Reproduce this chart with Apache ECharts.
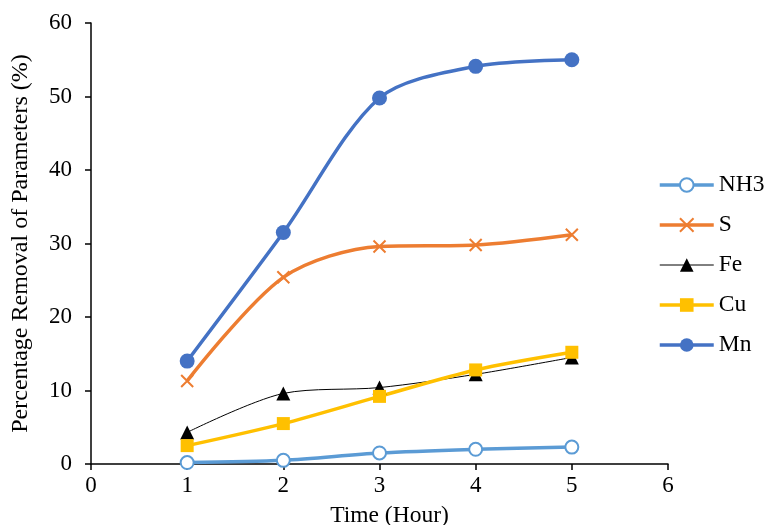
<!DOCTYPE html>
<html>
<head>
<meta charset="utf-8">
<script src="https://cdn.jsdelivr.net/npm/echarts@6/dist/echarts.min.js"></script>
<style>
  html, body { margin: 0; padding: 0; background: #fff; }
  #chart { width: 765px; height: 525px; }
</style>
</head>
<body>
<div id="chart"></div>
<script>
// Removal over time (hours) for each parameter
const hours = [1, 2, 3, 4, 5];
const nh3 = [0.2, 0.5, 1.5, 2.0, 2.3];
const s   = [11.3, 25.4, 29.6, 29.8, 31.2];
const fe  = [4.3, 9.6, 10.4, 12.2, 14.5];
const cu  = [2.5, 5.5, 9.2, 12.8, 15.2];
const mn  = [14.0, 31.5, 49.8, 54.1, 55.0];

const pairs = (ys) => hours.map((h, i) => [h, ys[i]]);
const font = '"Liberation Serif", "Times New Roman", serif';
const crossPath = 'path://M0,0L10,10M10,0L0,10';
const smooth = 0.3;

const chart = echarts.init(document.getElementById('chart'));
chart.setOption({
  animation: false,
  backgroundColor: '#fff',
  grid: { left: 91, right: 97, top: 23, bottom: 61, outerBoundsMode: 'none', containLabel: false },
  xAxis: {
    type: 'value', min: 0, max: 6, interval: 1,
    name: 'Time (Hour)', nameLocation: 'middle', nameGap: 40,
    nameTextStyle: { fontFamily: font, fontSize: 23.5, color: '#000', padding: [0, 0, 0, 20] },
    axisLine: { onZero: false, lineStyle: { color: '#000', width: 1.5 } },
    axisTick: { show: true, length: 6, lineStyle: { color: '#000', width: 1.5 } },
    axisLabel: { fontFamily: font, fontSize: 23, color: '#000', margin: 10 },
    splitLine: { show: false }
  },
  yAxis: {
    type: 'value', min: 0, max: 60, interval: 10,
    name: 'Percentage Removal of Parameters (%)', nameLocation: 'middle', nameGap: 58,
    nameTextStyle: { fontFamily: font, fontSize: 24, color: '#000' },
    axisLine: { show: true, lineStyle: { color: '#000', width: 1.5 } },
    axisTick: { show: true, length: 6, lineStyle: { color: '#000', width: 1.5 } },
    axisLabel: { fontFamily: font, fontSize: 23, color: '#000', margin: 19 },
    splitLine: { show: false }
  },
  legend: {
    orient: 'vertical', left: 653, top: 168,
    itemWidth: 54, itemHeight: 17, itemGap: 16,
    lineStyle: { width: 'inherit' },
    textStyle: { fontFamily: font, fontSize: 23.5, lineHeight: 24, color: '#000' },
    data: ['NH3', 'S', 'Fe', 'Cu', 'Mn']
  },
  series: [
    {
      name: 'NH3', type: 'line', smooth: smooth, data: pairs(nh3),
      symbol: 'circle', symbolSize: 13,
      lineStyle: { color: '#5B9BD5', width: 3.5 },
      itemStyle: { color: '#fff', borderColor: '#5B9BD5', borderWidth: 2 }
    },
    {
      name: 'S', type: 'line', smooth: smooth, data: pairs(s),
      symbol: crossPath, symbolSize: 12,
      lineStyle: { color: '#ED7D31', width: 3.5 },
      itemStyle: { color: '#fff', borderColor: '#ED7D31', borderWidth: 2 }
    },
    {
      name: 'Fe', type: 'line', smooth: smooth, data: pairs(fe),
      symbol: 'triangle', symbolSize: 14,
      lineStyle: { color: '#000', width: 1 },
      itemStyle: { color: '#000' }
    },
    {
      name: 'Cu', type: 'line', smooth: smooth, data: pairs(cu),
      symbol: 'rect', symbolSize: 13,
      lineStyle: { color: '#FFC000', width: 3.5 },
      itemStyle: { color: '#FFC000' }
    },
    {
      name: 'Mn', type: 'line', smooth: smooth, data: pairs(mn),
      symbol: 'circle', symbolSize: 15,
      lineStyle: { color: '#4472C4', width: 3.5 },
      itemStyle: { color: '#4472C4' }
    }
  ]
});
</script>
</body>
</html>
